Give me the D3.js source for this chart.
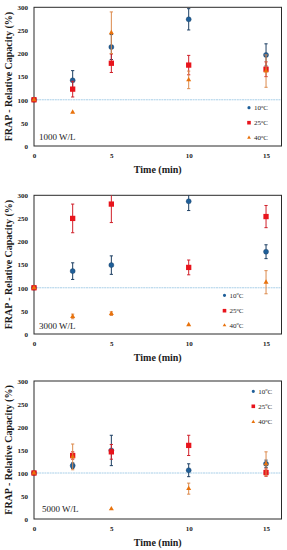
<!DOCTYPE html>
<html><head><meta charset="utf-8">
<script src="https://cdn.jsdelivr.net/npm/d3@7"></script>
<style>
html,body{margin:0;padding:0;background:#fff;}
svg{display:block;}
text{font-family:"Liberation Serif","DejaVu Serif",serif;fill:#1a1a1a;}
</style></head>
<body>
<svg id="c" width="287" height="550"></svg>
<script>
// ---- data ----
const times = [0, 2.5, 5, 10, 15];
const panelLabels = ["1000 W/L", "3000 W/L", "5000 W/L"];
const seriesNames = ["10", "25", "40"];
const yTicks = [0, 50, 100, 150, 200, 250, 300];
const xTicks = [0, 5, 10, 15];
const refValue = 100;

// 1000 W/L
const v10_1000 = [100, 142, 214, 274, 197];
const e10_1000 = [0, 21, 27, 23, 24];
const v25_1000 = [100, 123, 179, 175, 166];
const e25_1000 = [0, 17, 20, 21, 16];
const v40_1000 = [100, 73, 245, 143, 162];
const e40_1000 = [0, 0, 45, 19, 35];
// 3000 W/L
const v10_3000 = [100, 136, 149, 287, 178];
const e10_3000 = [0, 18, 20, 20, 15];
const v25_3000 = [100, 250, 281, 144, 254];
const e25_3000 = [0, 31, 40, 16, 24];
const v40_3000 = [100, 38, 44, 20, 112];
const e40_3000 = [0, 5, 4, 0, 25];
// 5000 W/L
const v10_5000 = [100, 116, 149, 106, 120];
const e10_5000 = [0, 6, 33, 14, 8];
const v25_5000 = [100, 138, 146, 160, 101];
const e25_5000 = [0, 8, 16, 22, 8];
const v40_5000 = [100, 135, 22, 66, 120];
const e40_5000 = [0, 28, 0, 12, 26];

const panelValues = [
  [v10_1000, v25_1000, v40_1000],
  [v10_3000, v25_3000, v40_3000],
  [v10_5000, v25_5000, v40_5000]
];
const panelErrors = [
  [e10_1000, e25_1000, e40_1000],
  [e10_3000, e25_3000, e40_3000],
  [e10_5000, e25_5000, e40_5000]
];

// ---- styles ----
const markerFill = ["#1f5f99", "#e8141c", "#e8720c"];
const errColor = ["#1d3f63", "#d0202a", "#dc8a4c"];
const markerType = [d3.symbolCircle, d3.symbolSquare, d3.symbolTriangle];
const markerSize = [20, 28, 11];
const legendSize = [8, 13, 6];

const layout = [
  {top: 7.3, bottom: 146, legX: 249, legY: [107.7, 122.7, 137.7], labX: 39, labY: 137},
  {top: 195.3, bottom: 334, legX: 224.5, legY: [295.3, 310.7, 325.3], labX: 39, labY: 326},
  {top: 381, bottom: 519, legX: 253.3, legY: [391.3, 406.3, 422], labX: 42, labY: 509}
];
const left = 34, right = 281.5;

const svg = d3.select("#c");

layout.forEach((L, p) => {
  const g = svg.append("g");
  const x = d3.scaleLinear().domain([0, 16]).range([left, right]);
  const y = d3.scaleLinear().domain([0, 300]).range([L.bottom, L.top]);

  // reference line
  g.append("line")
    .attr("x1", x(0)).attr("x2", x(16))
    .attr("y1", y(refValue)).attr("y2", y(refValue))
    .attr("stroke", "#a9cfe8").attr("stroke-width", 1)
    .attr("stroke-dasharray", "2,0.6");

  // axes
  const ya = g.append("g").attr("transform", `translate(${left},0)`)
    .call(d3.axisLeft(y).tickValues(yTicks).tickSize(0).tickPadding(6));
  ya.select(".domain").remove();
  ya.selectAll("text").attr("font-size", 7).attr("font-family", "Liberation Serif").attr("font-weight", "bold").attr("fill", "#333");

  const xa = g.append("g").attr("transform", `translate(0,${L.bottom})`)
    .call(d3.axisBottom(x).tickValues(xTicks).tickSize(0).tickPadding(7));
  xa.select(".domain").remove();
  xa.selectAll("text").attr("font-size", 7).attr("font-family", "Liberation Serif").attr("font-weight", "bold").attr("fill", "#333");

  // box
  g.append("rect")
    .attr("x", left).attr("y", L.top)
    .attr("width", right - left).attr("height", L.bottom - L.top)
    .attr("fill", "none").attr("stroke", "#2a2a2a").attr("stroke-width", 1);

  // axis titles
  g.append("text")
    .attr("transform", `translate(12,${(L.top + L.bottom) / 2}) rotate(-90)`)
    .attr("text-anchor", "middle")
    .attr("font-size", 10).attr("font-weight", "bold")
    .text("FRAP - Relative Capacity (%)");
  g.append("text")
    .attr("x", (left + right) / 2).attr("y", L.bottom + 26.5)
    .attr("text-anchor", "middle")
    .attr("font-size", 10).attr("font-weight", "bold")
    .text("Time (min)");

  // panel label
  g.append("text")
    .attr("x", L.labX).attr("y", L.labY).attr("dy", "0.35em")
    .attr("font-size", 9).attr("fill", "#222")
    .text(panelLabels[p]);

  // series
  seriesNames.forEach((s, si) => {
    const vals = panelValues[p][si];
    const errs = panelErrors[p][si];
    const data = times.map((t, i) => ({t, v: vals[i], e: errs[i]}));
    const eg = g.append("g");
    data.filter(d => d.e > 0).forEach(d => {
      const yTop = y(Math.min(300, d.v + d.e));
      const yBot = y(Math.max(0, d.v - d.e));
      const cx = x(d.t);
      eg.append("line").attr("x1", cx).attr("x2", cx).attr("y1", yTop).attr("y2", yBot)
        .attr("stroke", errColor[si]).attr("stroke-width", 1);
      if (d.v + d.e <= 300)
        eg.append("line").attr("x1", cx - 1.6).attr("x2", cx + 1.6).attr("y1", yTop).attr("y2", yTop)
          .attr("stroke", errColor[si]).attr("stroke-width", 1);
      eg.append("line").attr("x1", cx - 1.6).attr("x2", cx + 1.6).attr("y1", yBot).attr("y2", yBot)
        .attr("stroke", errColor[si]).attr("stroke-width", 1);
    });
    g.append("g").selectAll("path").data(data).join("path")
      .attr("transform", d => `translate(${x(d.t)},${y(d.v)})`)
      .attr("d", d3.symbol().type(markerType[si]).size(markerSize[si]))
      .attr("fill", markerFill[si])
      .attr("stroke", si === 0 ? "#1d3f63" : "none").attr("stroke-width", 0.4);

    // legend
    const ly = L.legY[si];
    g.append("path")
      .attr("transform", `translate(${L.legX},${ly})`)
      .attr("d", d3.symbol().type(markerType[si]).size(legendSize[si]))
      .attr("fill", markerFill[si]);
    const t = g.append("text")
      .attr("x", L.legX + 5).attr("y", ly).attr("dy", "0.35em")
      .attr("font-size", 7).attr("fill", "#333");
    t.append("tspan").text(s);
    t.append("tspan").attr("font-size", 4.5).attr("dy", "-2.5").text("o");
    t.append("tspan").attr("dy", "2.5").text("C");
  });
});
</script>
</body></html>
